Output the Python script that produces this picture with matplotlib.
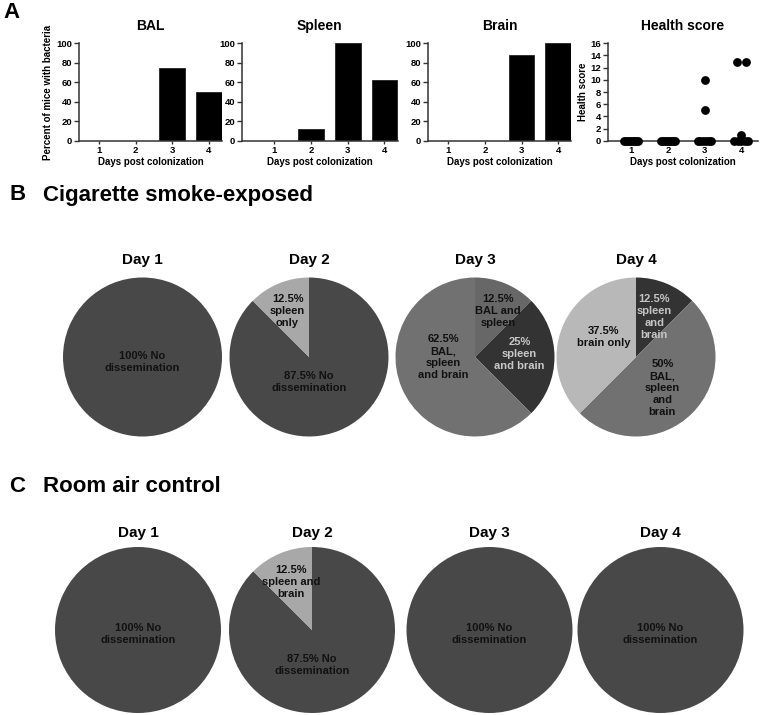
import numpy as np
import matplotlib
matplotlib.use("Agg")
import matplotlib.pyplot as plt

plt.rcParams["font.family"] = ["Liberation Sans", "DejaVu Sans"]
plt.rcParams["font.weight"] = "bold"
plt.rcParams["axes.labelweight"] = "bold"

W, H = 760, 715

# ---- panel A data ----
days = [1, 2, 3, 4]
bal_pct = [0, 0, 75, 50]
spleen_pct = [0, 12.5, 100, 62.5]
brain_pct = [0, 0, 87.5, 100]
health_scores = [
    [0, 0, 0, 0, 0, 0, 0, 0],
    [0, 0, 0, 0, 0, 0, 0, 0],
    [10, 5, 0, 0, 0, 0, 0, 0],
    [13, 13, 1, 0, 0, 0, 0, 0],
]

# ---- panels B / C data ----
day_titles = ["Day 1", "Day 2", "Day 3", "Day 4"]
cs_fracs = [[100], [87.5, 12.5], [12.5, 25, 62.5], [12.5, 50, 37.5]]
cs_labels = [
    ["100% No\ndissemination"],
    ["87.5% No\ndissemination", "12.5%\nspleen\nonly"],
    ["12.5%\nBAL and\nspleen", "25%\nspleen\nand brain", "62.5%\nBAL,\nspleen\nand brain"],
    ["12.5%\nspleen\nand\nbrain", "50%\nBAL,\nspleen\nand\nbrain", "37.5%\nbrain only"],
]
ra_fracs = [[100], [87.5, 12.5], [100], [100]]
ra_labels = [
    ["100% No\ndissemination"],
    ["87.5% No\ndissemination", "12.5%\nspleen and\nbrain"],
    ["100% No\ndissemination"],
    ["100% No\ndissemination"],
]

# styles for the pies (colour, text colour, label offset in radius units)
DARK, LIGHT, MID, DEEP, PALE = "#484848", "#a8a8a8", "#717171", "#333333", "#b8b8b8"
cs_style = [
    [(DARK, "#111111", (0, -0.06))],
    [(DARK, "#111111", (0, -0.31)), (LIGHT, "#111111", (-0.27, 0.58))],
    [("#676767", "#111111", (0.29, 0.58)), (DEEP, "#c8c8c8", (0.56, 0.04)),
     (MID, "#111111", (-0.40, 0.0))],
    [(DEEP, "#c4c4c4", (0.23, 0.50)), (MID, "#111111", (0.33, -0.39)),
     (PALE, "#111111", (-0.41, 0.25))],
]
ra_style = [
    [(DARK, "#111111", (0, -0.05))],
    [(DARK, "#111111", (0, -0.42)), (LIGHT, "#111111", (-0.25, 0.58))],
    [(DARK, "#111111", (0, -0.05))],
    [(DARK, "#111111", (0, -0.05))],
]


def px_axes(fig, left, top, width, height):
    return fig.add_axes([left / W, 1 - (top + height) / H, width / W, height / H])


def style_prism(ax):
    for s in ("top", "right"):
        ax.spines[s].set_visible(False)
    for s in ("left", "bottom"):
        ax.spines[s].set_color("#333333")
        ax.spines[s].set_linewidth(1.1)
    ax.tick_params(axis="both", labelsize=6.8, width=1.0, color="#333333", pad=1.5)
    ax.tick_params(axis="y", length=3.5)
    ax.tick_params(axis="x", length=2.5)
    ax.set_xticks(days)
    ax.set_xlabel("Days post colonization", fontsize=7, labelpad=1)


fig = plt.figure(figsize=(W / 100, H / 100), dpi=100)

PX_PER_DAY = 36.7
TOP, HGT = 43.3, 97.4
bar_panels = [
    ("BAL", bal_pct, 79, 0.46, 4.35),
    ("Spleen", spleen_pct, 242, 0.12, 4.36),
    ("Brain", brain_pct, 428, 0.45, 4.35),
]
for title, vals, left, x0, x1 in bar_panels:
    ax = px_axes(fig, left, TOP, (x1 - x0) * PX_PER_DAY, HGT)
    ax.bar(days, vals, width=0.7, color="black", edgecolor="#222222", linewidth=0.6)
    ax.set_xlim(x0, x1)
    ax.set_ylim(0, 100)
    ax.set_yticks([0, 20, 40, 60, 80, 100])
    style_prism(ax)
    ax.text(0.5, 1.18, title, transform=ax.transAxes, ha="center", va="center",
            fontsize=10)
    if title == "BAL":
        ax.set_ylabel("Percent of mice with bacteria", fontsize=7, labelpad=2)

# health score scatter
x0, x1 = 0.37, 4.46
ax = px_axes(fig, 608, TOP, (x1 - x0) * PX_PER_DAY, HGT)
for d, scores in zip(days, health_scores):
    scores = np.array(scores)
    for v in np.unique(scores):
        n = int((scores == v).sum())
        step = min(0.24, 0.38 / max(n - 1, 1))
        offs = (np.arange(n) - (n - 1) / 2) * step
        ax.scatter(d + offs, np.full(n, v), s=40, color="black", zorder=3,
                   clip_on=False, linewidths=0)
ax.set_xlim(x0, x1)
ax.set_ylim(0, 16)
ax.set_yticks(range(0, 17, 2))
style_prism(ax)
ax.set_ylabel("Health score", fontsize=7, labelpad=2)
ax.text(0.5, 1.18, "Health score", transform=ax.transAxes, ha="center",
        va="center", fontsize=10)


def draw_pies(fracs, labels, styles, centers, cy, r, title_off):
    for cx, f, lab, sty, ttl in zip(centers, fracs, labels, styles, day_titles):
        ax = px_axes(fig, cx - r, cy - r, 2 * r, 2 * r)
        ax.pie(f, colors=[s[0] for s in sty], startangle=90, counterclock=False,
               radius=1, wedgeprops=dict(linewidth=0))
        ax.set_xlim(-1, 1)
        ax.set_ylim(-1, 1)
        ax.set_aspect("equal")
        for text, (_, tc, (dx, dy)) in zip(lab, sty):
            ax.text(dx, dy, text, ha="center", va="center", fontsize=8,
                    color=tc, linespacing=1.25)
        ax.text(0, title_off, ttl, ha="center", va="center", fontsize=11,
                clip_on=False)


draw_pies(cs_fracs, cs_labels, cs_style, [142.5, 309, 475, 636], 357, 79.5, 1.22)
draw_pies(ra_fracs, ra_labels, ra_style, [138, 312, 489.5, 660.5], 630, 83, 1.17)

fig.text(12 / W, 1 - 13 / H, "A", fontsize=16, ha="center", va="center")
fig.text(17.5 / W, 1 - 195 / H, "B", fontsize=16, ha="center", va="center")
fig.text(43 / W, 1 - 195 / H, "Cigarette smoke-exposed", fontsize=16,
         ha="left", va="center")
fig.text(17.5 / W, 1 - 486 / H, "C", fontsize=16, ha="center", va="center")
fig.text(43 / W, 1 - 486 / H, "Room air control", fontsize=16,
         ha="left", va="center")

fig.savefig("out.png", dpi=100)
